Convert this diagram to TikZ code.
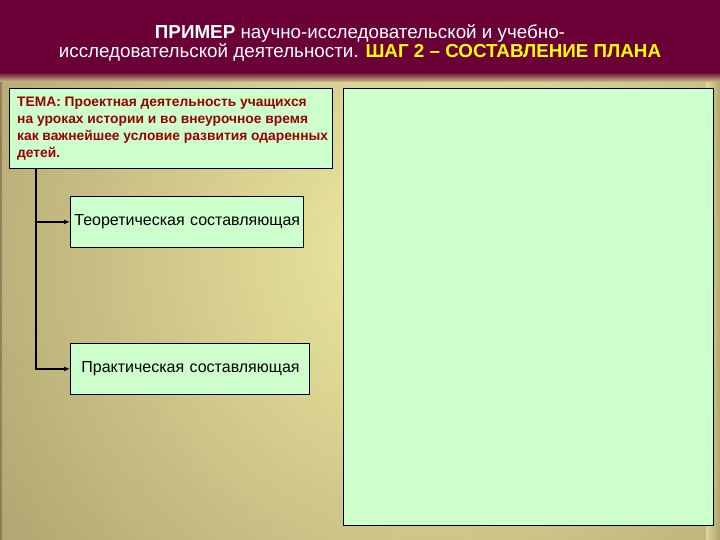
\documentclass[tikz,border=0pt]{standalone}
\usepackage{fontspec}
\setmainfont{Liberation Sans}
\usetikzlibrary{arrows.meta}

\definecolor{headbg}{HTML}{6A0035}
\definecolor{titleyellow}{HTML}{FFFF00}
\definecolor{boxgreen}{HTML}{CCFFCC}
\definecolor{themered}{HTML}{990000}
\definecolor{bglight}{HTML}{F0EDA4}
\definecolor{bgdark}{HTML}{A49466}
\tikzset{every node/.style={font=\fontsize{16}{18}\selectfont},
	greenbox/.style={draw, fill=boxgreen, line width=0.8pt, rectangle, inner sep=0pt},
	partbox/.style={greenbox, anchor=north west, align=left, inner xsep=0pt, text height=12pt, text depth=4pt},
	branch/.style={line width=1.5pt, -{Latex[length=6pt,width=5pt]}}}

\begin{document}
\begin{tikzpicture}[x=1pt,y=-1pt]
		\useasboundingbox (0,0) rectangle (720,540);
		% background
		\begin{scope}
		\clip (0,78) rectangle (720,540);
		\shade[inner color=bglight, outer color=bgdark] (430,250) circle (640);
		\shade[left color=bglight, right color=bgdark, opacity=0.6] (706,78) rectangle (720,540);
		\fill[bgdark!60!black, opacity=0.5] (0,78) rectangle (2,540);
		\end{scope}
		\fill[headbg] (0,0) rectangle (720,76);
		\shade[top color=headbg, bottom color=bgdark!50!bglight] (0,72) rectangle (720,82);
		% title
		\node[text=white, align=center, font=\fontsize{18.8}{19}\selectfont] (title) at (360,43)
		{\textbf{ПРИМЕР} научно-исследовательской и учебно-\\
		исследовательской деятельности. \textcolor{titleyellow}{\textbf{ШАГ 2 – СОСТАВЛЕНИЕ ПЛАНА}}};
		% boxes
		\node[greenbox, minimum width=323, minimum height=80, anchor=north west] (theme) at (9,88) {};
		\node[anchor=north west, align=left, text=themered, inner sep=0pt,
		font=\bfseries\fontsize{13.8}{17}\selectfont] (themetext) at (17,97)
		{ТЕМА: Проектная деятельность учащихся\\
		на уроках истории и во внеурочное время\\
		как важнейшее условие развития одаренных\\
		детей.};
		\node[greenbox, minimum width=370, minimum height=437, anchor=north west] (plan) at (343,88) {};
		\node[partbox, text width=233, minimum height=51] (theory) at (70,196) {\hspace*{4pt}Теоретическая составляющая};
		\node[partbox, text width=239, minimum height=51] (practice) at (70,343) {\hspace*{11pt}Практическая составляющая};
		% connectors
		\coordinate (trunk) at (36,168);
		\draw[branch] (trunk) |- (theory.west);
		\draw[branch] (trunk) |- (practice.west);
		\end{tikzpicture}
\end{document}
